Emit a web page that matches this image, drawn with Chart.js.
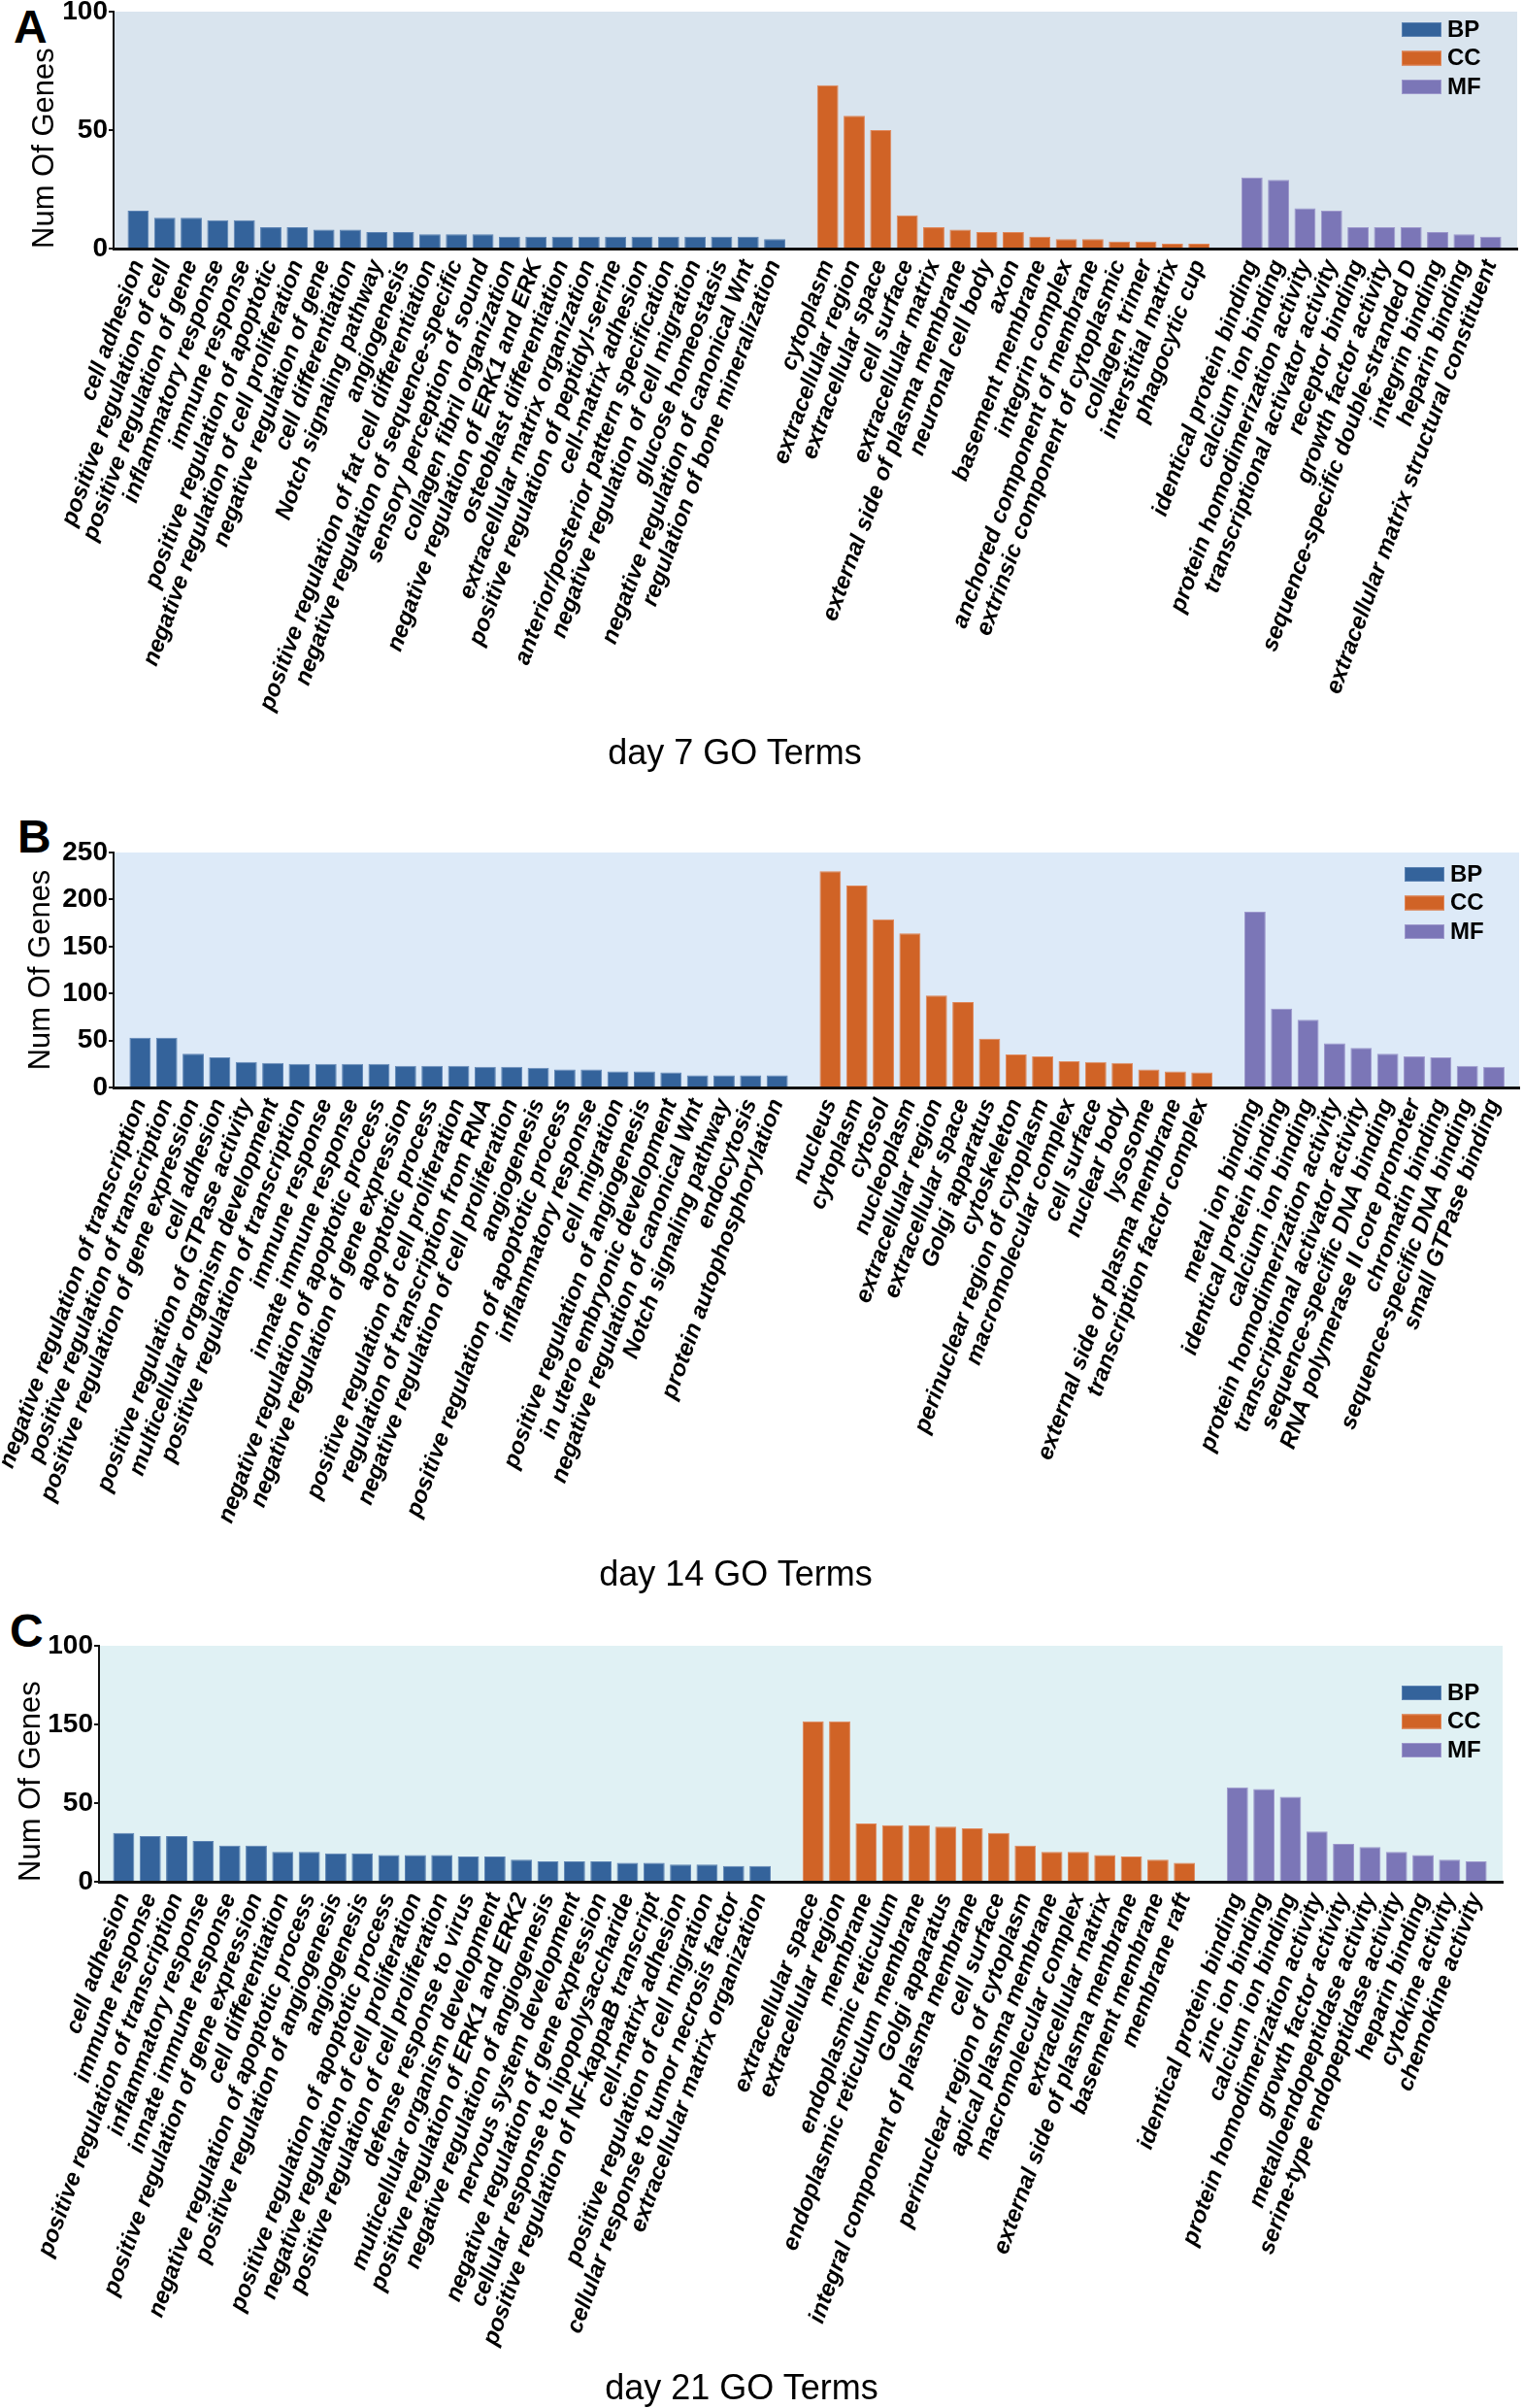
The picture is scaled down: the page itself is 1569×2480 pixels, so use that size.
<!DOCTYPE html>
<html lang="en">
<head>
  <meta charset="UTF-8">
  <title>GO Terms day 7 / 14 / 21</title>
  <script src="https://cdn.jsdelivr.net/npm/chart.js"></script>
  <style>
    body {
      margin: 0;
      background: #fff;
      width: 1569px;
      height: 2480px;
      position: relative;
      overflow: hidden;
      font-family: 'Liberation Sans', Arial, sans-serif;
    }
    canvas { position: absolute; left: 0; }
    .tag {
      position: absolute;
      font-weight: bold;
      font-size: 48px;
      line-height: 1;
    }
    .term {
      position: absolute;
      font-size: 36px;
      line-height: 1;
      transform: translate(-50%, -50%);
      white-space: nowrap;
    }
  </style>
</head>
<body>
  <div class="tag" style="left:14px;top:4px">A</div>
  <div class="tag" style="left:18px;top:838px">B</div>
  <div class="tag" style="left:10px;top:1656px">C</div>

  <canvas id="chartA" width="1569" height="780" style="top:0px"></canvas>
  <canvas id="chartB" width="1569" height="780" style="top:840px"></canvas>
  <canvas id="chartC" width="1569" height="800" style="top:1655px"></canvas>

  <div class="term" style="left:757px;top:775px">day 7 GO Terms</div>
  <div class="term" style="left:758px;top:1621px">day 14 GO Terms</div>
  <div class="term" style="left:764px;top:2459px">day 21 GO Terms</div>

<script>
  // ---- day 7 ----
  const bpNamesA = ['cell adhesion', 'positive regulation of cell', 'positive regulation of gene', 'inflammatory response',
    'immune response', 'positive regulation of apoptotic', 'negative regulation of cell proliferation',
    'negative regulation of gene', 'cell differentiation', 'Notch signaling pathway', 'angiogenesis',
    'positive regulation of fat cell differentiation', 'negative regulation of sequence-specific',
    'sensory perception of sound', 'collagen fibril organization', 'negative regulation of ERK1 and ERK',
    'osteoblast differentiation', 'extracellular matrix organization', 'positive regulation of peptidyl-serine',
    'cell-matrix adhesion', 'anterior/posterior pattern specification', 'negative regulation of cell migration',
    'glucose homeostasis', 'negative regulation of canonical Wnt', 'regulation of bone mineralization'];
  const ccNamesA = ['cytoplasm', 'extracellular region', 'extracellular space', 'cell surface', 'extracellular matrix',
    'external side of plasma membrane', 'neuronal cell body', 'axon', 'basement membrane', 'integrin complex',
    'anchored component of membrane', 'extrinsic component of cytoplasmic', 'collagen trimer',
    'interstitial matrix', 'phagocytic cup'];
  const mfNamesA = ['identical protein binding', 'calcium ion binding', 'protein homodimerization activity',
    'transcriptional activator activity', 'receptor binding', 'growth factor activity',
    'sequence-specific double-stranded D', 'integrin binding', 'heparin binding',
    'extracellular matrix structural constituent'];
  const bpA = [16, 13, 13, 12, 12, 9, 9, 8, 8, 7, 7, 6, 6, 6, 5, 5, 5, 5, 5, 5, 5, 5, 5, 5, 4];
  const ccA = [69, 56, 50, 14, 9, 8, 7, 7, 5, 4, 4, 3, 3, 2, 2];
  const mfA = [30, 29, 17, 16, 9, 9, 9, 7, 6, 5];
  const yTicksA = ['0', '50', '100'];

  // ---- day 14 ----
  const bpNamesB = ['negative regulation of transcription', 'positive regulation of transcription',
    'positive regulation of gene expression', 'cell adhesion', 'positive regulation of GTPase activity',
    'multicellular organism development', 'positive regulation of transcription', 'immune response',
    'innate immune response', 'negative regulation of apoptotic process', 'negative regulation of gene expression',
    'apoptotic process', 'positive regulation of cell proliferation', 'regulation of transcription from RNA',
    'negative regulation of cell proliferation', 'angiogenesis', 'positive regulation of apoptotic process',
    'inflammatory response', 'cell migration', 'positive regulation of angiogenesis',
    'in utero embryonic development', 'negative regulation of canonical Wnt', 'Notch signaling pathway',
    'endocytosis', 'protein autophosphorylation'];
  const ccNamesB = ['nucleus', 'cytoplasm', 'cytosol', 'nucleoplasm', 'extracellular region', 'extracellular space',
    'Golgi apparatus', 'cytoskeleton', 'perinuclear region of cytoplasm', 'macromolecular complex', 'cell surface',
    'nuclear body', 'lysosome', 'external side of plasma membrane', 'transcription factor complex'];
  const mfNamesB = ['metal ion binding', 'identical protein binding', 'calcium ion binding',
    'protein homodimerization activity', 'transcriptional activator activity', 'sequence-specific DNA binding',
    'RNA polymerase II core promoter', 'chromatin binding', 'sequence-specific DNA binding', 'small GTPase binding'];
  const bpB = [53, 53, 36, 32, 27, 26, 25, 25, 25, 25, 23, 23, 23, 22, 22, 21, 19, 19, 17, 17, 16, 13, 13, 13, 13];
  const ccB = [230, 215, 179, 164, 98, 91, 52, 35, 33, 28, 27, 26, 19, 17, 16];
  const mfB = [187, 84, 72, 47, 42, 36, 33, 32, 23, 22];
  const yTicksB = ['0', '50', '100', '150', '200', '250'];

  // ---- day 21 ----
  const bpNamesC = ['cell adhesion', 'immune response', 'positive regulation of transcription', 'inflammatory response',
    'innate immune response', 'positive regulation of gene expression', 'cell differentiation',
    'negative regulation of apoptotic process', 'positive regulation of angiogenesis', 'angiogenesis',
    'positive regulation of apoptotic process', 'negative regulation of cell proliferation',
    'positive regulation of cell proliferation', 'defense response to virus', 'multicellular organism development',
    'positive regulation of ERK1 and ERK2', 'negative regulation of angiogenesis', 'nervous system development',
    'negative regulation of gene expression', 'cellular response to lipopolysaccharide',
    'positive regulation of NF-kappaB transcript', 'cell-matrix adhesion', 'positive regulation of cell migration',
    'cellular response to tumor necrosis factor', 'extracellular matrix organization'];
  const ccNamesC = ['extracellular space', 'extracellular region', 'membrane', 'endoplasmic reticulum',
    'endoplasmic reticulum membrane', 'Golgi apparatus', 'integral component of plasma membrane', 'cell surface',
    'perinuclear region of cytoplasm', 'apical plasma membrane', 'macromolecular complex', 'extracellular matrix',
    'external side of plasma membrane', 'basement membrane', 'membrane raft'];
  const mfNamesC = ['identical protein binding', 'zinc ion binding', 'calcium ion binding',
    'protein homodimerization activity', 'growth factor activity', 'metalloendopeptidase activity',
    'serine-type endopeptidase activity', 'heparin binding', 'cytokine activity', 'chemokine activity'];
  // values in axis-position units; the figure labels its ticks 0, 50, 150, 100
  const bpC = [31, 29, 29, 26, 23, 23, 19, 19, 18, 18, 17, 17, 17, 16, 16, 14, 13, 13, 13, 12, 12, 11, 11, 10, 10];
  const ccC = [102, 102, 37, 36, 36, 35, 34, 31, 23, 19, 19, 17, 16, 14, 12];
  const mfC = [60, 59, 54, 32, 24, 22, 19, 17, 14, 13];
  const yTicksC = ['0', '50', '150', '100'];

  const groupColors = { BP: '#34639b', CC: '#d06326', MF: '#7b76b7' };
  const groupEdges = { BP: '#5d84b4', CC: '#e0875a', MF: '#9d98cc' };

  const sans = "'Liberation Sans', Arial, sans-serif";

  // background of the plot area
  const plotBg = {
    id: 'plotBg',
    beforeDraw(chart, args, opts) {
      const { ctx, chartArea: a } = chart;
      ctx.save();
      ctx.fillStyle = opts.color;
      ctx.fillRect(a.left, a.top, a.right - a.left, a.bottom - a.top);
      ctx.restore();
    }
  };

  // BP / CC / MF key in the top right corner
  const goKey = {
    id: 'goKey',
    afterDraw(chart, args, opts) {
      const { ctx, chartArea: a } = chart;
      const x = a.right - opts.dx;
      let y = a.top + opts.dy;
      ctx.save();
      ctx.font = 'bold 24px ' + sans;
      ctx.textBaseline = 'middle';
      ctx.textAlign = 'left';
      chart.data.datasets.forEach(ds => {
        ctx.fillStyle = ds.backgroundColor;
        ctx.fillRect(x, y - 7, 41, 15);
        ctx.strokeStyle = ds.borderColor;
        ctx.lineWidth = 1;
        ctx.strokeRect(x + 0.5, y - 6.5, 40, 14);
        ctx.fillStyle = '#000';
        ctx.fillText(ds.label, x + 47, y + 1);
        y += 29.5;
      });
      ctx.restore();
    }
  };

  function drawPanel(id, bpNames, ccNames, mfNames, bp, cc, mf, yTicks, cfg) {
    const names = [...bpNames, '', ...ccNames, '', ...mfNames];
    const ccStart = bpNames.length + 1;
    const mfStart = ccStart + ccNames.length + 1;
    const pts = (vals, start) => vals.map((v, i) => ({ x: start + i, y: v }));
    const canvas = document.getElementById(id);
    const H = canvas.height;

    new Chart(canvas.getContext('2d'), {
      type: 'bar',
      data: {
        datasets: [
          { label: 'BP', data: pts(bp, 0), backgroundColor: groupColors.BP, borderColor: groupEdges.BP, borderWidth: 1 },
          { label: 'CC', data: pts(cc, ccStart), backgroundColor: groupColors.CC, borderColor: groupEdges.CC, borderWidth: 1 },
          { label: 'MF', data: pts(mf, mfStart), backgroundColor: groupColors.MF, borderColor: groupEdges.MF, borderWidth: 1 }
        ]
      },
      options: {
        responsive: false,
        animation: false,
        devicePixelRatio: 1,
        layout: { padding: { top: cfg.top, right: canvas.width - cfg.right, left: 0, bottom: 0 } },
        datasets: { bar: { grouped: false, barPercentage: 0.8, categoryPercentage: 1 } },
        plugins: {
          legend: { display: false },
          tooltip: { enabled: false },
          plotBg: { color: cfg.bg },
          goKey: { dx: cfg.keyDx, dy: cfg.keyDy }
        },
        scales: {
          x: {
            type: 'linear',
            min: cfg.xMin,
            max: cfg.xMax,
            offset: false,
            grid: { display: false, drawTicks: false, offset: false },
            border: { display: true, color: '#111', width: 3 },
            ticks: {
              stepSize: 1,
              includeBounds: false,
              autoSkip: false,
              minRotation: 70,
              maxRotation: 70,
              padding: 8,
              color: '#000',
              font: { family: sans, size: 24, weight: 'bold', style: 'italic' },
              callback: v => (Number.isInteger(v) && names[v]) ? names[v] : ''
            },
            afterFit(s) { s.height = H - cfg.bottom; s.paddingLeft = 0; s.paddingRight = 0; }
          },
          y: {
            min: 0,
            max: cfg.yMax,
            grid: { display: true, drawOnChartArea: false, drawTicks: true, tickLength: 5, color: '#111', lineWidth: 2 },
            border: { display: true, color: '#111', width: 2 },
            ticks: {
              stepSize: cfg.yStep,
              padding: 1,
              color: '#000',
              font: { family: sans, size: 28, weight: 'bold' },
              callback: (v, i) => yTicks[i] ?? ''
            },
            title: {
              display: true,
              text: 'Num Of Genes',
              align: cfg.titleAlign,
              color: '#000',
              font: { family: sans, size: 31 },
              padding: { top: cfg.titlePad, bottom: 0 }
            },
            afterFit(s) { s.width = cfg.left; s.paddingTop = 0; s.paddingBottom = 0; }
          }
        }
      },
      plugins: [plotBg, goKey]
    });
  }

  drawPanel('chartA', bpNamesA, ccNamesA, mfNamesA, bpA, ccA, mfA, yTicksA, {
    top: 12, bottom: 256, left: 117, right: 1563, xMin: -0.93, xMax: 52,
    yMax: 100, yStep: 50, bg: '#d9e4ee', titleAlign: 'start', titlePad: 28, keyDx: 119, keyDy: 18
  });
  drawPanel('chartB', bpNamesB, ccNamesB, mfNamesB, bpB, ccB, mfB, yTicksB, {
    top: 38, bottom: 280, left: 117, right: 1565, xMin: -1.0, xMax: 51.95,
    yMax: 250, yStep: 50, bg: '#ddeaf8', titleAlign: 'center', titlePad: 24, keyDx: 118, keyDy: 22
  });
  drawPanel('chartC', bpNamesC, ccNamesC, mfNamesC, bpC, ccC, mfC, yTicksC, {
    top: 40, bottom: 283, left: 102, right: 1548, xMin: -0.93, xMax: 52,
    yMax: 150, yStep: 50, bg: '#e0f1f4', titleAlign: 'start', titlePad: 14, keyDx: 104, keyDy: 48
  });
</script>
</body>
</html>
